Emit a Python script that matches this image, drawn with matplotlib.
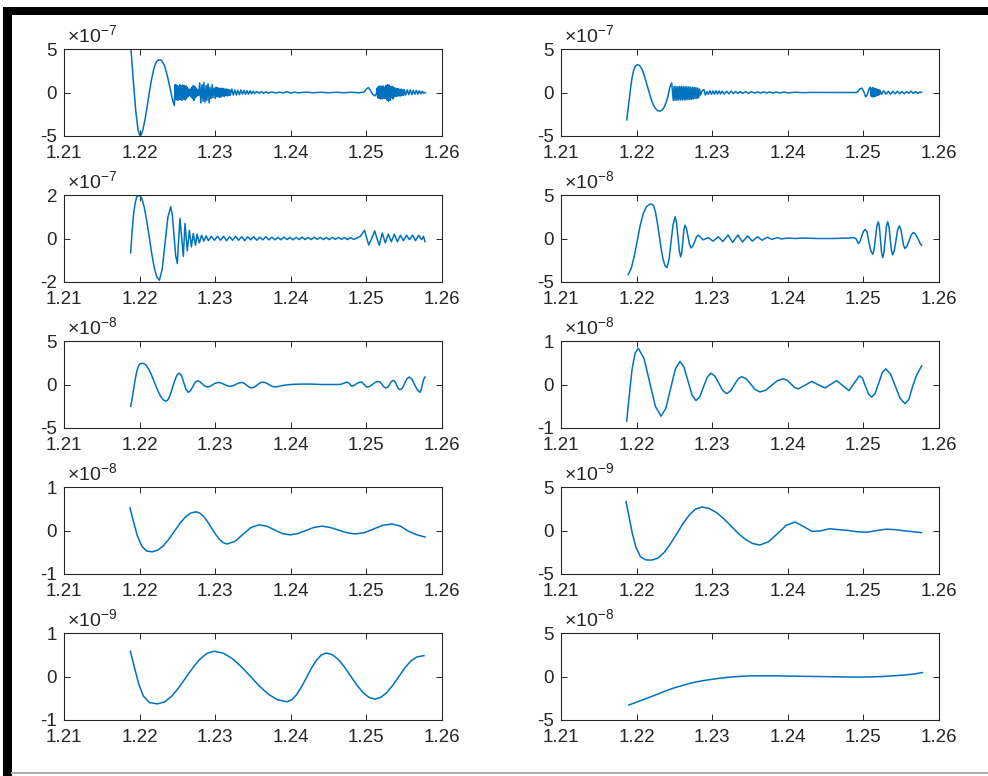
import numpy as np
import matplotlib
matplotlib.use("Agg")
import matplotlib.pyplot as plt
from matplotlib.patches import Rectangle
from matplotlib.lines import Line2D

plt.rcParams['font.family'] = ['Liberation Sans', 'DejaVu Sans']
plt.rcParams['mathtext.fontset'] = 'custom'
plt.rcParams['mathtext.rm'] = 'Liberation Sans'
plt.rcParams['mathtext.it'] = 'Liberation Sans'
plt.rcParams['mathtext.bf'] = 'Liberation Sans'

# ---------------- data (y in units of 10^exponent) ----------------
xticks = [1.21, 1.22, 1.23, 1.24, 1.25, 1.26]
xtick_labels = ['1.21', '1.22', '1.23', '1.24', '1.25', '1.26']
exponents = [-7, -7, -7, -8, -8, -8, -8, -9, -9, -8]
ylims = [5, 5, 2, 5, 5, 1, 1, 5, 1, 5]

x_p1 = [1.2186, 1.2189, 1.2192, 1.2195, 1.2198, 1.2200, 1.2202, 1.2204, 1.2207, 1.2210, 1.2213,
        1.2216, 1.2219, 1.2222, 1.2225, 1.2229, 1.2233, 1.2237, 1.2241, 1.2244, 1.2246,
        1.2247, 1.2248, 1.2249, 1.2250, 1.2251, 1.2252, 1.2253, 1.2254, 1.2255, 1.2256, 1.2257, 1.2258,
        1.2259, 1.2260, 1.2261, 1.2262, 1.2263, 1.2264, 1.2265, 1.2266, 1.2267, 1.2268, 1.2269, 1.2270,
        1.2271, 1.2272, 1.2273, 1.2274, 1.2275, 1.2276, 1.2277, 1.2278,
        1.22795, 1.2281, 1.22825, 1.2284, 1.2285, 1.22865, 1.2288, 1.2289, 1.22905, 1.2292, 1.2293,
        1.22945, 1.2296, 1.2297, 1.22985, 1.2300, 1.2301, 1.2302,
        1.2303, 1.2304, 1.2305, 1.2306, 1.2307, 1.2308, 1.2309, 1.2310, 1.2311, 1.2312, 1.2313, 1.2314,
        1.2315, 1.2316, 1.2317, 1.2318, 1.2319, 1.2320,
        1.2322, 1.2324, 1.2326, 1.2328, 1.2330, 1.2332, 1.2334, 1.2336, 1.2338, 1.2340, 1.2342, 1.2344,
        1.2346, 1.2348, 1.2350,
        1.2352, 1.2355, 1.2358, 1.2361, 1.2364, 1.2367, 1.2370, 1.2375, 1.2380, 1.2385, 1.2390, 1.2395,
        1.2400, 1.2405, 1.2410, 1.2420, 1.2430, 1.2440, 1.2450, 1.2460, 1.2470, 1.2480, 1.2490, 1.2497,
        1.2500, 1.25025, 1.2505, 1.2508, 1.25114, 1.2513,
        1.2514, 1.2515, 1.2516, 1.2517, 1.2518, 1.2519, 1.2520, 1.2521, 1.2522, 1.2523, 1.2524, 1.2525,
        1.2526, 1.2527, 1.2528, 1.2529, 1.2530, 1.2531, 1.2532, 1.2533, 1.2534, 1.2535, 1.2536, 1.2537,
        1.2538, 1.2539, 1.2540, 1.2541, 1.2542, 1.2543, 1.2544, 1.2545, 1.2546, 1.2547, 1.2548, 1.2549,
        1.2550,
        1.2552, 1.2554, 1.2556, 1.2558, 1.2560, 1.2562, 1.2564, 1.2566, 1.2568, 1.2570, 1.2572, 1.2574,
        1.2576, 1.2578]
y_p1 = [8.0, 4.5, 1.0, -2.2, -4.3, -4.9, -4.9, -4.4, -3.2, -1.6, 0.1,
        1.6, 2.8, 3.5, 3.75, 3.7, 3.1, 1.8, 0.2, -1.0, -1.5,
        0.9, -0.8, 0.85, -0.9, 0.7, -0.85, 0.9, -0.8, 0.8, -0.9, 0.85, -0.75,
        0.8, -0.85, 0.75, -0.7, 0.6, -0.5, 0.4, -0.35, 0.4, -0.5, 0.6, -0.7,
        0.8, -0.9, 0.7, -0.6, 0.5, -0.4, 0.3, -0.35,
        1.1, -1.2, 0.9, -1.0, 1.15, -1.1, 0.8, -0.9, 1.0, -1.2, 0.6,
        -0.7, 0.9, -0.6, 0.5, -0.7, 0.6, -0.5,
        0.55, -0.5, 0.5, -0.55, 0.45, -0.5, 0.5, -0.4, 0.45, -0.45, 0.4, -0.35,
        0.4, -0.4, 0.35, -0.35, 0.3, -0.3,
        0.4, -0.3, 0.3, -0.3, 0.25, -0.25, 0.3, -0.2, 0.25, -0.2, 0.2, -0.2,
        0.2, -0.15, 0.15,
        -0.12, 0.12, -0.1, 0.1, -0.1, 0.08, -0.08, 0.06, -0.06, 0.05, -0.05, 0.1,
        -0.08, 0.04, -0.04, 0.04, -0.03, 0.03, -0.03, 0.03, -0.03, 0.03, -0.03, 0.05,
        0.4, 0.57, 0.3, -0.2, -0.38, -0.2,
        0.5, -0.6, 0.7, -0.7, 0.75, -0.75, 0.7, -0.7, 0.75, -0.65, 0.6, -0.7,
        0.8, -0.85, 0.9, -1.0, 0.85, -0.9, 0.7, -0.6, 0.7, -0.75, 0.6, -0.5,
        0.5, -0.45, 0.45, -0.4, 0.45, -0.4, 0.35, -0.4, 0.4, -0.35, 0.3, -0.35,
        0.35,
        -0.3, 0.3, -0.25, 0.3, -0.25, 0.25, -0.2, 0.25, -0.2, 0.2, -0.15, 0.15,
        -0.1, 0.0]

x_p2 = [1.21869, 1.2188, 1.2190, 1.2192, 1.2194, 1.2196, 1.2198, 1.2201, 1.2204, 1.2207, 1.2210,
        1.2213, 1.2216, 1.2219, 1.2222, 1.2225, 1.2228, 1.2231, 1.2234, 1.2237, 1.2240, 1.2242,
        1.2244, 1.22464, 1.2247,
        1.22485, 1.22497, 1.22509, 1.22521, 1.22533, 1.22545, 1.22557, 1.22569, 1.22581, 1.22593,
        1.22605, 1.22617, 1.22629, 1.22641, 1.22653, 1.22665, 1.22677, 1.22689, 1.22701, 1.22713,
        1.22725, 1.22737, 1.22749, 1.22761, 1.22773, 1.22785, 1.22797, 1.22809, 1.22821, 1.22833,
        1.22845,
        1.2286, 1.2289, 1.2291, 1.2293, 1.2295, 1.2297, 1.2299, 1.2301,
        1.2303, 1.2305, 1.2307, 1.2309, 1.2311, 1.2313, 1.2316, 1.2319, 1.2322, 1.2325, 1.2328,
        1.2331, 1.2334, 1.2337, 1.2340, 1.2344, 1.2348, 1.2352, 1.2356, 1.2360, 1.2364, 1.2368,
        1.2372, 1.2376, 1.2380, 1.2385, 1.2390, 1.2395, 1.2400, 1.2410, 1.2420, 1.2430, 1.2450,
        1.2470, 1.2490, 1.2492, 1.2495, 1.2498, 1.2501, 1.2503, 1.2505, 1.2507, 1.2509,
        1.2510, 1.25108, 1.25116, 1.25124, 1.25132, 1.2514, 1.25148, 1.25156, 1.25164, 1.25172,
        1.2518, 1.25188, 1.25196, 1.25204, 1.25212, 1.2522,
        1.2524, 1.2527, 1.2530, 1.2533, 1.2536, 1.2539, 1.2542, 1.2545, 1.2548, 1.2551, 1.2554,
        1.2557, 1.2560, 1.2563, 1.2566, 1.2569, 1.2572, 1.2575, 1.2577]
y_p2 = [-3.15, -2.4, -1.0, 0.5, 1.7, 2.5, 3.0, 3.2, 3.1, 2.7, 2.0,
        1.1, 0.2, -0.7, -1.4, -1.85, -2.1, -2.15, -2.0, -1.6, -0.9, -0.2,
        0.6, 1.1, 0.6,
        -0.9, 0.7, -0.9, 0.7, -0.9, 0.65, -0.85, 0.7, -0.85, 0.7,
        -0.85, 0.65, -0.85, 0.7, -0.85, 0.65, -0.8, 0.65, -0.8, 0.6,
        -0.8, 0.6, -0.75, 0.6, -0.7, 0.55, -0.7, 0.5, -0.6, 0.4,
        -0.3,
        0.1, 0.35, -0.3, 0.1, -0.2, 0.2, -0.2, 0.18,
        -0.2, 0.2, -0.18, 0.18, -0.18, 0.15, -0.18, 0.15, -0.15, 0.15, -0.12,
        0.12, -0.12, 0.12, -0.1, 0.1, -0.1, 0.1, -0.08, 0.08, -0.08, 0.08,
        -0.06, 0.06, -0.06, 0.05, -0.05, 0.05, -0.04, 0.03, -0.02, 0.01, 0.0,
        0.0, 0.0, 0.05, 0.4, 0.5, 0.0, -0.5, -0.3, 0.3, 0.6,
        -0.4, 0.5, -0.5, 0.55, -0.5, 0.5, -0.45, 0.45, -0.4, 0.4,
        -0.35, 0.35, -0.3, 0.3, -0.25, 0.25,
        -0.2, 0.2, -0.2, 0.15, -0.2, 0.15, -0.15, 0.15, -0.15, 0.1, -0.15,
        0.1, -0.1, 0.15, -0.1, 0.1, -0.1, 0.05, 0.0]

x_p3 = [1.21882, 1.2190, 1.2192, 1.2194, 1.2196, 1.21996, 1.22029, 1.22062, 1.22095, 1.22129,
        1.22162, 1.22195, 1.22228, 1.22261, 1.22299, 1.22336, 1.22374, 1.22411, 1.22433, 1.22455,
        1.22477, 1.22499, 1.22516, 1.22534, 1.22556, 1.22578, 1.22601, 1.22631, 1.22658, 1.22685,
        1.2271, 1.2274, 1.2276, 1.2279, 1.2282, 1.2285, 1.2288, 1.2291,
        1.2295, 1.2299, 1.2303, 1.2307, 1.2311, 1.2315, 1.2319, 1.2323, 1.2327, 1.2331, 1.2335,
        1.2339, 1.2343, 1.2347, 1.2351, 1.2355, 1.2359, 1.2363, 1.2367, 1.2371, 1.2375, 1.2379,
        1.2383, 1.2387, 1.2391, 1.2395, 1.2399, 1.2403, 1.2407, 1.2411, 1.2415, 1.2419, 1.2423,
        1.2427, 1.2431, 1.2435, 1.2439, 1.2443, 1.2447, 1.2451, 1.2455, 1.2459, 1.2463, 1.2467,
        1.2471, 1.2475, 1.2479, 1.2483, 1.2487,
        1.2492, 1.24975, 1.2503, 1.2507, 1.2511, 1.2514, 1.2517, 1.2521, 1.2525, 1.2529, 1.2533,
        1.2537, 1.2541, 1.2545, 1.2549, 1.2553, 1.2557, 1.2561, 1.2565, 1.2569, 1.2573, 1.25755,
        1.25775]
y_p3 = [-0.66, 0.3, 1.1, 1.6, 1.9, 2.0, 1.85, 1.43, 0.80, 0.04,
        -0.73, -1.36, -1.77, -1.92, -1.43, -0.23, 0.97, 1.46, 1.08, 0.16,
        -0.77, -1.15, -0.1, 0.92, 0.05, -0.82, 0.69, -0.57, 0.38, -0.39,
        0.23, -0.31, 0.2, -0.2, 0.15, -0.12, 0.12, -0.1,
        0.1, -0.08, 0.1, -0.08, 0.1, -0.1, 0.08, -0.08, 0.1, -0.08, 0.08,
        -0.1, 0.08, -0.06, 0.08, -0.08, 0.06, -0.06, 0.08, -0.06, 0.06, -0.06,
        0.05, -0.06, 0.06, -0.05, 0.05, -0.06, 0.05, -0.05, 0.06, -0.05, 0.05,
        -0.05, 0.06, -0.04, 0.05, -0.05, 0.04, -0.05, 0.05, -0.04, 0.05, -0.04,
        0.04, -0.05, 0.04, -0.04, 0.02,
        0.1, 0.38, -0.3, 0.0, 0.35, 0.0, -0.31, 0.25, -0.2, 0.2, -0.15,
        0.2, -0.15, 0.15, -0.1, 0.15, -0.05, 0.15, -0.1, 0.15, -0.05, 0.1,
        -0.14]

x_p4 = [1.2189, 1.2193, 1.2197, 1.2201, 1.2205, 1.2209, 1.2213, 1.2217, 1.2220, 1.22225,
        1.2225, 1.22275, 1.2230, 1.22325, 1.2235, 1.22375, 1.2240,
        1.22428, 1.22455, 1.22483, 1.2251, 1.22528, 1.22547, 1.22565, 1.22583, 1.22597, 1.22612,
        1.22626, 1.2264, 1.2266, 1.2268, 1.2270, 1.2272, 1.2274, 1.2277, 1.2279, 1.22816,
        1.22848, 1.2288, 1.22915, 1.2295, 1.2298, 1.2301, 1.23045, 1.2308, 1.2311, 1.2314,
        1.23175, 1.2321, 1.2324, 1.2327, 1.23305, 1.2334, 1.2337, 1.2340, 1.23435, 1.2347,
        1.2350, 1.2353, 1.23565, 1.2360, 1.2363, 1.2366, 1.23695, 1.2373, 1.2376, 1.2379,
        1.23825, 1.2386, 1.2392, 1.2400, 1.2410, 1.2420, 1.2440, 1.2460, 1.2480, 1.2487,
        1.2490, 1.24933,
        1.24955, 1.24977, 1.24999, 1.25021, 1.25047, 1.25072, 1.25098, 1.25123, 1.25141, 1.2516,
        1.25178, 1.25197, 1.25211, 1.25226, 1.2524, 1.25255, 1.25272, 1.25288, 1.25305, 1.25321,
        1.25338, 1.25354, 1.25371, 1.25387, 1.25409, 1.25431, 1.25453, 1.25475, 1.25494, 1.25513,
        1.25531, 1.2555, 1.25578, 1.25605, 1.25633, 1.2566, 1.2569, 1.2572, 1.2575, 1.2577]
y_p4 = [-4.15, -3.4, -2.0, -0.2, 1.6, 2.9, 3.65, 3.93, 3.96, 3.75,
        3.0, 1.8, 0.3, -1.2, -2.4, -3.1, -3.35,
        -2.5, -0.43, 1.64, 2.49, 1.8, 0.18, -1.43, -2.12, -1.6, -0.3,
        1.0, 1.53, 1.15, 0.22, -0.7, -1.08, -0.9, -0.35, 0.15, 0.38,
        0.12, -0.15, -0.02, 0.1, -0.1, -0.3, -0.05, 0.2, -0.07, -0.35,
        0.02, 0.4, -0.02, -0.45, -0.02, 0.4, 0.0, -0.4, -0.05, 0.3,
        0.0, -0.3, -0.05, 0.2, 0.0, -0.2, -0.02, 0.15, 0.02, -0.1,
        0.0, 0.1, -0.05, 0.05, 0.0, 0.05, 0.0, 0.0, 0.05, 0.1,
        0.0, -0.58,
        -0.35, 0.23, 0.8, 1.04, 0.8, -0.38, -1.4, -1.81, -1.3, 0.05,
        1.4, 1.92, 1.4, -0.13, -1.6, -2.19, -1.6, -0.13, 1.4, 1.92,
        1.4, 0.02, -1.35, -1.88, -1.4, -0.2, 1.0, 1.46, 1.08, 0.15,
        -0.77, -1.15, -0.88, -0.23, 0.42, 0.69, 0.5, 0.0, -0.55, -0.77]

x_p5 = [1.21882, 1.2190, 1.2192, 1.2194, 1.2196, 1.2198, 1.2200, 1.22041,
        1.2208, 1.22118, 1.22157, 1.22195, 1.22234, 1.22272, 1.22311, 1.22349,
        1.22371, 1.22393, 1.22415, 1.22437, 1.2246, 1.22482, 1.22504, 1.22526,
        1.22556, 1.22585, 1.22615, 1.22644,
        1.22674, 1.22704, 1.22734, 1.22764,
        1.22797, 1.2283, 1.22863, 1.22896,
        1.22932, 1.22968, 1.23004, 1.2304,
        1.23079, 1.23118, 1.23157, 1.23196,
        1.23235, 1.23273, 1.23312, 1.2335,
        1.23383, 1.23416, 1.2345, 1.23483,
        1.23519, 1.23555, 1.23592, 1.23628,
        1.23669, 1.2371, 1.2375, 1.23791,
        1.2385, 1.2390, 1.2400, 1.2410, 1.2420, 1.2430, 1.2440, 1.2450, 1.2460, 1.2466,
        1.2470, 1.2474, 1.2477, 1.24805, 1.2484, 1.2487, 1.2491, 1.24938,
        1.24971, 1.25004, 1.25043, 1.25081, 1.2512, 1.25158, 1.25184, 1.25209, 1.25235, 1.2526,
        1.25284, 1.25308, 1.25332, 1.25356, 1.25378, 1.2540, 1.25422, 1.25444, 1.25475, 1.25506,
        1.25537, 1.25568, 1.25603, 1.25638, 1.25674, 1.25709, 1.25725, 1.2574, 1.25758, 1.25775]
y_p5 = [-2.5, -1.7, -0.6, 0.5, 1.4, 2.0, 2.35, 2.45,
        2.28, 1.81, 1.1, 0.265, -0.57, -1.28, -1.75, -1.92,
        -1.8, -1.45, -0.92, -0.305, 0.31, 0.84, 1.19, 1.31,
        0.99, 0.2, -0.58, -0.9,
        -0.7, -0.23, 0.24, 0.43,
        0.32, 0.07, -0.18, -0.29,
        -0.21, -0.02, 0.16, 0.24,
        0.17, 0.015, -0.14, -0.21,
        -0.14, 0.015, 0.17, 0.24,
        0.15, -0.08, -0.31, -0.4,
        -0.3, -0.06, 0.18, 0.28,
        0.2, 0.0, -0.2, -0.29,
        -0.2, -0.1, 0.0, 0.04, 0.05, 0.04, 0.0, 0.0, 0.0, 0.02,
        0.14, 0.28, 0.15, -0.2, -0.1, 0.1, 0.26, 0.28,
        0.0, -0.3, -0.22, 0.02, 0.27, 0.35, 0.26, -0.02, -0.3, -0.4,
        -0.3, 0.03, 0.36, 0.47, 0.35, -0.06, -0.46, -0.6, -0.45, 0.13,
        0.67, 0.86, 0.6, -0.02, -0.64, -0.9, -0.6, 0.0, 0.6, 0.86]

x_p6 = [1.21869, 1.2190, 1.2194, 1.2198, 1.22023, 1.22098, 1.22173, 1.22248, 1.22323, 1.22386,
        1.22449, 1.22511, 1.22574, 1.22627, 1.2268, 1.22733, 1.22786, 1.22836, 1.22885, 1.22935,
        1.22984, 1.23036, 1.23088, 1.2314, 1.23192, 1.23242, 1.23291, 1.2334, 1.2339, 1.2345,
        1.23511, 1.23571, 1.23632, 1.23709, 1.23786, 1.23863, 1.2394, 1.2399, 1.2404, 1.2409,
        1.24139, 1.24228, 1.24316, 1.24404, 1.24492, 1.24569, 1.24646, 1.24728, 1.24809, 1.24878,
        1.24946, 1.24987, 1.25028, 1.25069, 1.2511, 1.25156, 1.25203, 1.25249, 1.25295, 1.25359,
        1.25423, 1.25486, 1.2555, 1.2560, 1.2565, 1.2570, 1.25771]
y_p6 = [-0.84, -0.3, 0.35, 0.72, 0.83, 0.60, 0.05, -0.50, -0.73, -0.55,
        -0.10, 0.35, 0.53, 0.40, 0.08, -0.24, -0.37, -0.28, -0.055, 0.17,
        0.26, 0.19, 0.025, -0.14, -0.21, -0.15, -0.015, 0.12, 0.18, 0.13,
        0.005, -0.12, -0.17, -0.13, -0.02, 0.09, 0.13, 0.1, 0.015, -0.07,
        -0.10, -0.015, 0.07, -0.005, -0.08, 0.005, 0.09, -0.025, -0.14, 0.03,
        0.2, 0.15, -0.045, -0.22, -0.29, -0.2, 0.035, 0.27, 0.36, 0.24,
        -0.04, -0.32, -0.44, -0.35, -0.05, 0.2, 0.43]

x_p7 = [1.21873, 1.2192, 1.2197, 1.2203, 1.2209, 1.22164, 1.22237, 1.2231, 1.22382, 1.22455,
        1.22528, 1.226, 1.22673, 1.22746, 1.22797, 1.22849, 1.229, 1.22951, 1.23002, 1.23054,
        1.23105, 1.23156, 1.23262, 1.23367, 1.23473, 1.23579, 1.23682, 1.23784, 1.23887, 1.2399,
        1.24095, 1.242, 1.24305, 1.2441, 1.2452, 1.2463, 1.2474, 1.2485, 1.24973, 1.25095,
        1.25218, 1.2534, 1.2545, 1.2556, 1.2567, 1.25775]
y_p7 = [0.52, 0.2, -0.12, -0.36, -0.47, -0.49, -0.455, -0.36, -0.21, -0.03,
        0.15, 0.30, 0.40, 0.43, 0.40, 0.32, 0.2, 0.06, -0.08, -0.2,
        -0.28, -0.31, -0.25, -0.09, 0.07, 0.13, 0.1, 0.015, -0.07, -0.1,
        -0.07, 0.0, 0.07, 0.1, 0.07, 0.01, -0.05, -0.08, -0.05, 0.035,
        0.12, 0.15, 0.1, -0.02, -0.1, -0.15]

x_p8 = [1.2186, 1.2190, 1.2194, 1.2199, 1.2205, 1.2212, 1.2220, 1.22283, 1.22366, 1.22449,
        1.22533, 1.22616, 1.22699, 1.22782, 1.22865, 1.22961, 1.23057, 1.23153, 1.23249, 1.23344,
        1.2344, 1.23536, 1.23632, 1.23748, 1.23864, 1.23979, 1.24095, 1.2421, 1.2432, 1.2443,
        1.2455, 1.2467, 1.2480, 1.2492, 1.2505, 1.2518, 1.2530, 1.2542, 1.2555, 1.2567, 1.2577]
y_p8 = [3.3, 1.6, -0.2, -1.9, -3.0, -3.38, -3.4, -3.17, -2.51, -1.52,
        -0.35, 0.82, 1.81, 2.47, 2.7, 2.53, 2.06, 1.35, 0.52, -0.32,
        -1.03, -1.50, -1.67, -1.28, -0.35, 0.59, 0.98, 0.45, -0.1, -0.05,
        0.2, 0.1, 0.0, -0.15, -0.2, 0.0, 0.15, 0.1, -0.05, -0.15, -0.25]

x_p9 = [1.21878, 1.2193, 1.2199, 1.2205, 1.2213, 1.22237, 1.22331, 1.22425, 1.22518, 1.22612,
        1.22706, 1.228, 1.22893, 1.22987, 1.23107, 1.23227, 1.23347, 1.23467, 1.23586, 1.23706,
        1.23826, 1.23946, 1.24012, 1.24077, 1.24143, 1.24209, 1.24274, 1.2434, 1.24405, 1.24471,
        1.24551, 1.24632, 1.24712, 1.24792, 1.24872, 1.24953, 1.25033, 1.25113, 1.2519, 1.2527,
        1.2535, 1.2543, 1.2551, 1.2559, 1.2567, 1.25762]
y_p9 = [0.58, 0.22, -0.18, -0.45, -0.6, -0.63, -0.584, -0.453, -0.256, -0.025,
        0.206, 0.403, 0.534, 0.58, 0.536, 0.411, 0.222, 0.0, -0.222, -0.411,
        -0.536, -0.58, -0.537, -0.416, -0.234, -0.02, 0.194, 0.376, 0.497, 0.54,
        0.50, 0.385, 0.212, 0.01, -0.192, -0.365, -0.48, -0.52, -0.48, -0.37,
        -0.2, 0.0, 0.2, 0.36, 0.45, 0.48]

x_p10 = [1.21898, 1.2200, 1.2210, 1.2220, 1.2230, 1.2240, 1.2250, 1.2260, 1.2270, 1.2280,
         1.2290, 1.2300, 1.2310, 1.2320, 1.2330, 1.2340, 1.2350, 1.2360, 1.2380, 1.2400,
         1.2420, 1.2440, 1.2460, 1.2480, 1.2495, 1.2510, 1.2525, 1.2540, 1.2555, 1.2568, 1.2578]
y_p10 = [-3.27, -2.95, -2.62, -2.3, -1.95, -1.6, -1.3, -1.05, -0.8, -0.6,
         -0.45, -0.32, -0.2, -0.1, -0.03, 0.03, 0.07, 0.08, 0.08, 0.05,
         0.02, 0.0, -0.03, -0.06, -0.07, -0.05, 0.0, 0.08, 0.18, 0.3, 0.45]

panels = [(x_p1, y_p1), (x_p2, y_p2), (x_p3, y_p3), (x_p4, y_p4), (x_p5, y_p5),
          (x_p6, y_p6), (x_p7, y_p7), (x_p8, y_p8), (x_p9, y_p9), (x_p10, y_p10)]

# ---------------- layout ----------------
W, H = 988, 776
fig = plt.figure(figsize=(W / 100, H / 100), dpi=100)
fig.patch.set_facecolor('white')

col_left = [64, 561]
ax_w = 378
row_top = [49, 195, 341, 487, 633]
ax_h = 87
dark = '#262626'
line_color = '#0072BD'

for i, (xs, ys) in enumerate(panels):
    r, c = divmod(i, 2)
    e = exponents[i]
    lim = ylims[i]
    s = 10.0 ** e
    ax = fig.add_axes([col_left[c] / W, 1 - (row_top[r] + ax_h) / H, ax_w / W, ax_h / H])
    ax.plot(np.asarray(xs), np.asarray(ys) * s, color=line_color, lw=1.1)
    ax.set_xlim(xticks[0], xticks[-1])
    ax.set_ylim(-lim * s, lim * s)
    ax.set_xticks(xticks)
    ax.set_xticklabels(xtick_labels)
    ax.set_yticks([-lim * s, 0, lim * s])
    ax.set_yticklabels(['-%d' % lim, '0', '%d' % lim])
    ax.tick_params(axis='both', direction='in', top=True, right=True, length=4,
                   width=0.7, color=dark, labelcolor=dark, labelsize=13.5)
    ax.tick_params(axis='x', pad=6.5)
    ax.tick_params(axis='y', pad=5)
    for sp in ax.spines.values():
        sp.set_color(dark)
        sp.set_linewidth(0.8)
    ax.text(0.008, 1.085, '\u00d710$^{%d}$' % e, transform=ax.transAxes,
            fontsize=14, color=dark, ha='left', va='baseline')

# frame of the screenshot
fig.add_artist(Rectangle((3 / W, 1 - 15 / H), 1 - 3 / W, 8 / H, transform=fig.transFigure,
                         facecolor='black', edgecolor='none'))
fig.add_artist(Rectangle((3 / W, 0), 9 / W, 1 - 7 / H, transform=fig.transFigure,
                         facecolor='black', edgecolor='none'))
fig.add_artist(Line2D([12 / W, 1], [1 - 773 / H, 1 - 773 / H], transform=fig.transFigure,
                      color='#b0b0b0', lw=1.5))

fig.savefig('out.png', dpi=100)
